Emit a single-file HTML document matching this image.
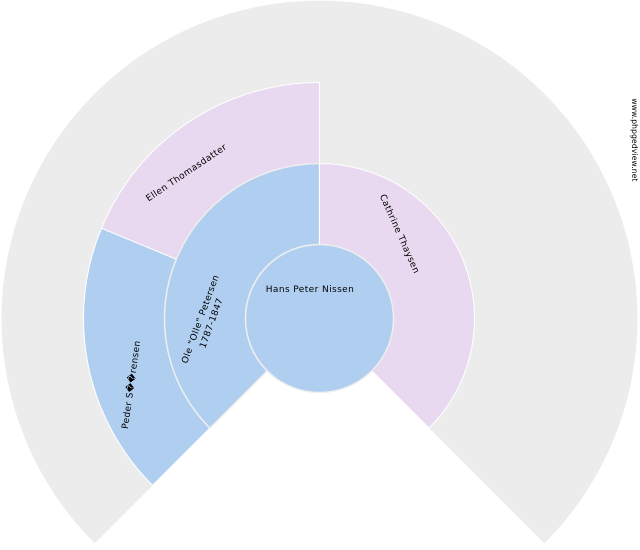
<!DOCTYPE html>
<html><head><meta charset="utf-8"><style>body{margin:0;background:#fff}svg{display:block}text{font-family:"DejaVu Sans","Liberation Sans",sans-serif;font-size:9px;fill:#000;letter-spacing:0.4px}</style></head><body>
<svg width="640" height="550" viewBox="0 0 640 550">
<g transform="translate(319.5,318.5)">
<path d="M0,0 L-224.9,224.9 A318,318 0 1 1 224.9,224.9 Z" fill="#ececec"/>
<path d="M-166.9,166.9 A236,236 0 0 1 -218.0,-90.3 L-143.2,-59.3 A155,155 0 0 0 -109.6,109.6 Z" fill="#b0cff0" stroke="#fff" stroke-width="1"/>
<path d="M-218.0,-90.3 A236,236 0 0 1 0,-236 L0,-155 A155,155 0 0 0 -143.2,-59.3 Z" fill="#e8d9f0" stroke="#fff" stroke-width="1"/>
<path d="M-109.6,109.6 A155,155 0 0 1 0,-155 L0,-74 A74,74 0 0 0 -52.3,52.3 Z" fill="#b0cff0" stroke="#eee" stroke-width="1.5"/>
<path d="M0,-155 A155,155 0 0 1 109.6,109.6 L52.3,52.3 A74,74 0 0 0 0,-74 Z" fill="#e8d9f0" stroke="#fff" stroke-width="1"/>
<circle r="74" fill="#b0cff0" stroke="#eee" stroke-width="1.5"/>
</g>
<text x="310" y="292" text-anchor="middle">Hans Peter Nissen</text>
<text transform="translate(397,235) rotate(66)" text-anchor="middle">Cathrine Thaysen</text>
<text transform="translate(203,320) rotate(-70)" text-anchor="middle">Ole "Olle" Petersen</text>
<text transform="translate(214,324) rotate(-70)" text-anchor="middle">1787-1847</text>
<text transform="translate(188,175) rotate(-34)" text-anchor="middle">Ellen Thomasdatter</text>
<text transform="translate(134,385) rotate(-82)" text-anchor="middle">Peder S��rensen</text>
<text transform="translate(632,140) rotate(90)" text-anchor="middle" style="font-size:7.5px;letter-spacing:0.2px">www.phpgedview.net</text>
</svg>
</body></html>
